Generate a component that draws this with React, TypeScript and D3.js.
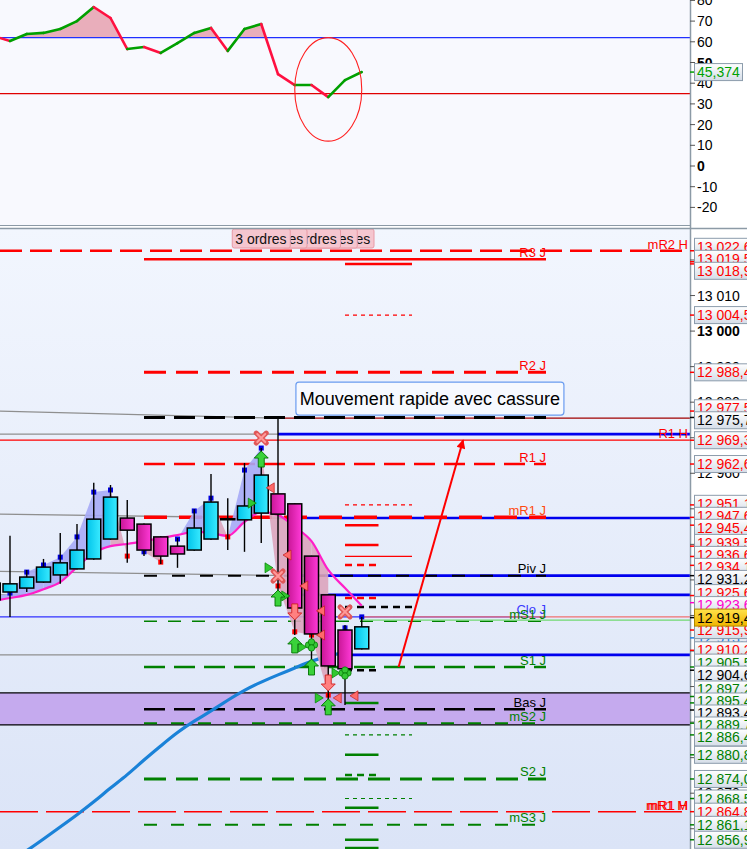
import React from "react";
import * as d3 from "d3";

// bars are indexed from -1 (partly off the left edge) to 21 (last bar)
const FIRST_BAR = -1;
const opens = [12924.4, 12926.6, 12927.7, 12929.4, 12931.4, 12933.1, 12935.9, 12941.5, 12947.4, 12945.7, 12942.1, 12939.5, 12938.4, 12941.5, 12947.2, 12946.9, 12948.8, 12954.2, 12951.4, 12936.7, 12925.8, 12915.9, 12910.6];
const highs = [12930.0, 12942.4, 12932.8, 12935.9, 12943.2, 12945.7, 12957.3, 12956.7, 12952.5, 12945.9, 12942.3, 12941.8, 12949.9, 12959.8, 12953.0, 12962.9, 12967.1, 12975.7, 12951.5, 12936.8, 12925.9, 12917.3, 12919.6];
const lows = [12922.0, 12919.6, 12926.6, 12929.2, 12928.9, 12932.9, 12935.7, 12941.3, 12934.8, 12936.7, 12934.5, 12933.4, 12938.2, 12941.3, 12938.4, 12937.9, 12940.4, 12922.9, 12914.5, 12907.5, 12896.2, 12894.8, 12910.4];
const closes = [12929.1, 12928.9, 12930.8, 12933.6, 12934.8, 12938.4, 12947.1, 12953.3, 12944.0, 12938.4, 12936.7, 12937.3, 12944.6, 12951.9, 12947.0, 12950.8, 12959.5, 12948.5, 12922.1, 12914.8, 12905.8, 12905.0, 12916.8];

const fastMa = [12924.1, 12924.9, 12925.8, 12927.4, 12929.4, 12933.6, 12937.6, 12939.5, 12940.1, 12940.9, 12941.8, 12942.6, 12943.5, 12943.2, 12942.4, 12946.3, 12949.1, 12948.3, 12944.9, 12940.9, 12932.8, 12927.7, 12922.7];
const slowMa = [12847.3, 12850.7, 12853.8, 12857.1, 12860.5, 12863.9, 12867.5, 12871.5, 12875.1, 12879.4, 12883.3, 12887.2, 12890.3, 12893.1, 12896.2, 12899.0, 12901.3, 12903.3, 12905.2, 12907.2, 12908.6, 12909.7, null];
const zigzag = [12925.0, 12926.3, 12932.2, 12934.2, 12936.4, 12942.1, 12954.7, 12955.3, 12936.7, 12937.9, 12935.0, 12941.5, 12949.4, 12953.0, 12942.1, 12960.9, 12967.1, 12928.3, 12915.4, 12914.5, 12897.6, 12916.5, 12919.6];

// oscillator (top panel)
const oscillator = [62.8, 60.4, 63.8, 64.3, 66.2, 70.0, 76.8, 71.5, 56.5, 57.5, 54.6, 59.4, 64.3, 66.7, 55.6, 66.2, 68.6, 44.4, 39.1, 39.1, 33.3, 41.5, 45.4];
const oscUpper = 62;
const oscLower = 35;
const oscLast = 45.374;
const oscTicks = [80, 70, 60, 50, 40, 30, 20, 10, 0, -10, -20];

// daily pivots
const pivotNames = ["R3 J", "R2 J", "Haut J", "R1 J", "mR1 J", "Piv J", "Clo J", "mS1 J", "S1 J", "Bas J", "mS2 J", "S2 J", "mS3 J"];
const pivotValues = [13020.2, 12988.4, 12975.7, 12962.6, 12947.6, 12931.2, 12919.6, 12918.4, 12905.5, 12893.6, 12889.7, 12874.0, 12861.1];
const pivotFromBar = 8;
const pivotToBar = 32;

// hourly / monthly levels across the whole chart
const hourlyNames = ["mR2 H", "R1 H", "mR1 M", "mR1 H"];
const hourlyValues = [13022.6, 12969.3, 12864.8, 12864.8];

// old swing levels: grey until broken, then blue
const swingStart = [12977.5, 12971.0, 12948.5, 12932.4, 12925.8, 12908.9];
const swingEnd = [12975.5, 12971.0, 12947.4, 12931.2, 12925.8, 12908.9];
const swingBreakBar = [16, 16, 16, 17, 17, 20];

// short order levels near the last bars
const shortFromBar = 20;
const redSolidShort = [12945.4, 12939.8];
const redSolidLong = [13018.9];
const redDashShort = [12934.2, 12924.9];
const redDashLong = [12977.5];
const redDotted = [13004.5, 12951.1];
const redThin = [12936.6];
const blackDashLong = [12922.4];
const blackDashShort = [12904.6];
const greenSolidShort = [12895.4, 12880.8, 12865.9, 12856.9, 12854.6];
const greenDashShort = [12875.1];
const greenDotted = [12886.4, 12868.5];

const zoneTop = 12898.2;
const zoneBottom = 12889.2;
const bidPrice = 12919.6;
const askPrice = 12918.7;
const lastPrice = 12919.4;

// price tags on the axis
const redTags = [13022.6, 13019.5, 13018.9, 13004.5, 12988.4, 12977.5, 12969.3, 12962.6, 12951.1, 12947.6, 12945.4, 12939.5, 12936.6, 12934.1, 12925.6, 12915.9, 12910.2, 12864.8];
const blackTags = [12975.7, 12931.2, 12904.6, 12893.4];
const greenTags = [12905.5, 12897.2, 12895.4, 12889.7, 12886.4, 12880.8, 12874.0, 12868.5, 12861.1, 12856.9];
const magentaTags = [12923.6];
const blueTags = [12913.7];

// signals
const upArrowBars = [15, 16, 17, 18, 19];
const upArrowValues = [12964.0, 12924.9, 12911.7, 12905.5, 12894.3];
const downArrowBars = [17, 19];
const downArrowValues = [12921.0, 12901.0];
const crossBars = [15, 16, 20];
const crossValues = [12969.9, 12931.1, 12921.0];
const cloverBars = [18, 20];
const cloverValues = [12911.7, 12903.8];
const buyTriBars = [15, 16, 17, 18, 19, 20];
const buyTriValues = [12951.6, 12933.4, 12925.5, 12911.1, 12896.8, 12903.8];
const sellTriBars = [15, 16, 17, 18, 18, 19, 20];
const sellTriValues = [12955.9, 12937.0, 12928.3, 12921.3, 12914.5, 12896.8, 12897.4];

const ordresBars = [15, 16, 18, 19, 20];
const ordresText = "3 ordres";
const noteText = "Mouvement rapide avec cassure";

const FONT = "'Liberation Sans', Arial, sans-serif";

function fmt(v: number, dec: number) {
  const [a, b] = v.toFixed(dec).split(".");
  const int = a.replace(/\B(?=(\d{3})+(?!\d))/g, " ");
  return b ? `${int},${b}` : int;
}

// spread the axis tags so that neighbours do not sit on top of each other
function spread(ys: number[], gap: number) {
  const out = ys.slice();
  for (let it = 0; it < 60; it++) {
    for (let k = 1; k < out.length; k++) {
      const d = out[k] - out[k - 1];
      if (d < gap) {
        const m = (gap - d) / 2;
        out[k - 1] -= m;
        out[k] += m;
      }
    }
  }
  return out;
}

const pivotStyle: Record<string, { c: string; w: number; d?: string; t: string }> = {
  "R3 J": { c: "#ff0000", w: 2.5, t: "#ff0000" },
  "R2 J": { c: "#ff0000", w: 3, d: "22,10", t: "#ff0000" },
  "Haut J": { c: "#000000", w: 3, d: "21,9", t: "#000000" },
  "R1 J": { c: "#ff0000", w: 2.5, d: "21,9", t: "#ff0000" },
  "mR1 J": { c: "#ff0000", w: 3.5, d: "23,12", t: "#ff4a10" },
  "Piv J": { c: "#000000", w: 2, d: "13,15", t: "#000000" },
  "Clo J": { c: "#3030ff", w: 1.2, t: "#3a3aff" },
  "mS1 J": { c: "#008000", w: 1.5, d: "13,11", t: "#008000" },
  "S1 J": { c: "#008000", w: 2.5, d: "21,9", t: "#008000" },
  "Bas J": { c: "#000000", w: 2.5, d: "21,9", t: "#000000" },
  "mS2 J": { c: "#008000", w: 2, d: "13,14", t: "#008000" },
  "S2 J": { c: "#008000", w: 3, d: "22,10", t: "#008000" },
  "mS3 J": { c: "#008000", w: 2, d: "13,14", t: "#008000" },
};

export default function App() {
  const x = d3.scaleLinear().domain([0, 40]).range([10, 680]);
  const y = d3.scaleLinear().domain([12854.3, 13029]).range([849, 228]);
  const yo = d3.scaleLinear().domain([-20, 80]).range([207.4, 0.4]);
  const barOf = (k: number) => k + FIRST_BAR;
  const PR = 690;

  const osc = oscillator.map((v, k) => ({ b: barOf(k), v }));
  const oscArea = d3.area<any>().x((d) => x(d.b)).y0(yo(oscUpper)).y1((d) => yo(d.v));

  const fastLine = d3.line<number>().x((_, k) => x(barOf(k))).y((d) => y(d)).curve(d3.curveMonotoneX);
  const aboveFast = d3
    .area<number>()
    .x((_, k) => x(barOf(k)))
    .y0(228)
    .y1((d) => y(d))
    .curve(d3.curveMonotoneX);
  const slowLine = d3
    .line<number | null>()
    .defined((d) => d != null)
    .x((_, k) => x(barOf(k)))
    .y((d) => y(d as number))
    .curve(d3.curveBasis);

  const shortGroups = [
    { vals: redSolidLong, to: 24, c: "#ff0000", w: 2.5 },
    { vals: redSolidShort, to: 22, c: "#ff0000", w: 2.5 },
    { vals: redDashShort, to: 22, c: "#ff0000", w: 2.5, d: "7,5" },
    { vals: redDashLong, to: 24, c: "#ff0000", w: 2.5, d: "7,5" },
    { vals: redDotted, to: 24, c: "#ff0000", w: 1.2, d: "4,4" },
    { vals: redThin, to: 24, c: "#ff0000", w: 1.2 },
    { vals: blackDashLong, to: 24, c: "#000000", w: 2.5, d: "7,5" },
    { vals: blackDashShort, to: 22, c: "#000000", w: 2.5, d: "7,5" },
    { vals: greenSolidShort, to: 22, c: "#008000", w: 2.5 },
    { vals: greenDashShort, to: 22, c: "#008000", w: 2.5, d: "7,5" },
    { vals: greenDotted, to: 24, c: "#008000", w: 1.2, d: "4,4" },
  ];

  const tags = [
    ...redTags.map((v) => ({ v, c: "#ff0000", last: false })),
    ...blackTags.map((v) => ({ v, c: "#000000", last: false })),
    ...greenTags.map((v) => ({ v, c: "#008000", last: false })),
    ...magentaTags.map((v) => ({ v, c: "#ff00cc", last: false })),
    { v: lastPrice, c: "#000000", last: true },
  ].sort((a, b) => b.v - a.v);
  const tagY = spread(
    tags.map((t) => y(t.v)),
    12
  );
  const placed = tags.map((t, k) => ({ ...t, ty: tagY[k] }));
  const lastTag = placed.find((t) => t.last)!;

  const upPath = "M0,-8 L7,-1 L3,-1 L3,8 L-3,8 L-3,-1 L-7,-1 Z";
  const downPath = "M0,8 L7,1 L3,1 L3,-8 L-3,-8 L-3,1 L-7,1 Z";

  const noteCx = x(25.07);
  const noteCy = y(12981.0);

  const tagBox = (ty: number, fill: string, stroke: string) => (
    <rect x={694.5} y={ty - 8.5} width={62} height={17} fill={fill} stroke={stroke} />
  );

  return (
    <svg width={747} height={849} style={{ position: "absolute", left: 0, top: 0, fontFamily: FONT }}>
      <defs>
        <linearGradient id="bgMain" x1="0" y1="0" x2="0" y2="1">
          <stop offset="0" stopColor="#f2f6fe" />
          <stop offset="1" stopColor="#dbe4f7" />
        </linearGradient>
        <linearGradient id="tagGrad" x1="0" y1="0" x2="0" y2="1">
          <stop offset="0" stopColor="#ffffff" />
          <stop offset="1" stopColor="#d5dde8" />
        </linearGradient>
        <linearGradient id="tagYellow" x1="0" y1="0" x2="0" y2="1">
          <stop offset="0" stopColor="#ffe24a" />
          <stop offset="1" stopColor="#f0b400" />
        </linearGradient>
        <linearGradient id="upGrad" x1="0" y1="0" x2="1" y2="0">
          <stop offset="0" stopColor="#00c4ea" />
          <stop offset="1" stopColor="#3aeaff" />
        </linearGradient>
        <linearGradient id="downGrad" x1="0" y1="0" x2="1" y2="0">
          <stop offset="0" stopColor="#c81696" />
          <stop offset="1" stopColor="#ff3ad8" />
        </linearGradient>
        <clipPath id="clipTop">
          <rect x={0} y={0} width={PR} height={225} />
        </clipPath>
        <clipPath id="clipOscFill">
          <rect x={0} y={0} width={PR} height={yo(oscUpper)} />
        </clipPath>
        <clipPath id="clipMain">
          <rect x={0} y={228} width={PR} height={621} />
        </clipPath>
        <clipPath id="clipAboveMa">
          <path d={aboveFast(fastMa) || ""} />
        </clipPath>
        <marker id="arrowHead" viewBox="0 0 10 10" refX="9" refY="5" markerWidth="6" markerHeight="4.5" orient="auto">
          <path d="M0,0 L10,5 L0,10 Z" fill="#ff0000" />
        </marker>
      </defs>

      <rect x={0} y={0} width={747} height={849} fill="#ffffff" />
      <rect x={0} y={0} width={PR} height={225} fill="#f8f9fe" />
      <rect x={0} y={228} width={PR} height={621} fill="url(#bgMain)" />

      {/* oscillator panel */}
      <g clipPath="url(#clipTop)">
        <g clipPath="url(#clipOscFill)">
          <path d={oscArea(osc) || ""} fill="#e9aebb" />
        </g>
        <line x1={0} x2={PR} y1={yo(oscUpper)} y2={yo(oscUpper)} stroke="#2030ff" strokeWidth={1.2} />
        <line x1={0} x2={PR} y1={yo(oscLower)} y2={yo(oscLower)} stroke="#e00000" strokeWidth={1.2} />
        {osc.slice(1).map((d, k) => {
          const p = osc[k];
          return (
            <line
              key={k}
              x1={x(p.b)}
              y1={yo(p.v)}
              x2={x(d.b)}
              y2={yo(d.v)}
              stroke={d.v >= p.v ? "#00a000" : "#ff1040"}
              strokeWidth={2.6}
              strokeLinecap="round"
            />
          );
        })}
        <ellipse cx={x(19)} cy={yo(37)} rx={x(21) - x(19)} ry={yo(12) - yo(37)} fill="none" stroke="#ff2020" strokeWidth={1.1} />
      </g>

      {/* main price panel */}
      <g clipPath="url(#clipMain)">
        <rect x={0} y={y(zoneTop)} width={PR} height={y(zoneBottom) - y(zoneTop)} fill="#c5aaee" />
        <line x1={0} x2={PR} y1={y(zoneTop)} y2={y(zoneTop)} stroke="#000" strokeWidth={1.2} />
        <line x1={0} x2={PR} y1={y(zoneBottom)} y2={y(zoneBottom)} stroke="#000" strokeWidth={1.2} />

        {swingStart.map((v, k) => {
          const bx = x(swingBreakBar[k]);
          return (
            <g key={"sw" + k}>
              <line x1={0} x2={bx} y1={y(v)} y2={y(swingEnd[k])} stroke="#8f8f8f" strokeWidth={1.3} />
              <line
                x1={bx}
                x2={PR}
                y1={y(swingEnd[k])}
                y2={y(swingEnd[k])}
                stroke={k === 0 ? "#a00000" : "#0000ee"}
                strokeWidth={k === 0 ? 1.2 : 2.6}
              />
            </g>
          );
        })}

        {hourlyNames.slice(0, 3).map((n, k) => {
          const v = hourlyValues[k];
          const st = n === "mR2 H" ? { w: 2.5, d: "22,8" } : n === "R1 H" ? { w: 1.2, d: undefined } : { w: 1.5, d: "38,8" };
          return <line key={"h" + k} x1={0} x2={PR} y1={y(v)} y2={y(v)} stroke="#ff0000" strokeWidth={st.w} strokeDasharray={st.d} />;
        })}

        {pivotNames.map((n, k) => {
          const st = pivotStyle[n];
          const v = pivotValues[k];
          const x0 = n === "Clo J" ? 0 : x(pivotFromBar);
          return <line key={"p" + k} x1={x0} x2={x(pivotToBar)} y1={y(v)} y2={y(v)} stroke={st.c} strokeWidth={st.w} strokeDasharray={st.d} />;
        })}

        {shortGroups.map((g, gi) =>
          g.vals.map((v, k) => (
            <line
              key={"s" + gi + "_" + k}
              x1={x(shortFromBar)}
              x2={x(g.to)}
              y1={y(v)}
              y2={y(v)}
              stroke={g.c}
              strokeWidth={g.w}
              strokeDasharray={g.d}
            />
          ))
        )}

        <line x1={x(21)} x2={PR} y1={y(bidPrice)} y2={y(bidPrice)} stroke="#f07070" strokeWidth={1.2} />
        <line x1={x(21)} x2={PR} y1={y(askPrice)} y2={y(askPrice)} stroke="#70d870" strokeWidth={1.2} />

        <path d={slowLine(slowMa) || ""} fill="none" stroke="#1a82d8" strokeWidth={3.2} />

        {zigzag.slice(0, -1).map((z, k) => {
          const z2 = zigzag[k + 1];
          const x1 = x(barOf(k));
          const x2 = x(barOf(k + 1));
          const pts = [
            [x1, y(z)],
            [x2, y(z2)],
            [x2, y(fastMa[k + 1])],
            [x1, y(fastMa[k])],
          ];
          const rising = z2 >= z;
          return (
            <polygon
              key={"z" + k}
              points={pts.map((p) => p.join(",")).join(" ")}
              fill={rising ? "#a6aaf6" : "#dca4bc"}
              opacity={0.9}
              clipPath={rising ? "url(#clipAboveMa)" : undefined}
            />
          );
        })}

        <path d={fastLine(fastMa) || ""} fill="none" stroke="#ff1fc8" strokeWidth={2.2} />

        {zigzag.map((z, k) => {
          if (k === 0) return null;
          const up = z >= zigzag[k - 1];
          return <rect key={"m" + k} x={x(barOf(k)) - 2.5} y={y(z) - 2.5} width={5} height={5} fill={up ? "#0000e0" : "#ff0000"} />;
        })}

        {opens.map((o, k) => {
          const cx = x(barOf(k));
          const c = closes[k];
          const top = y(Math.max(o, c));
          const bot = y(Math.min(o, c));
          return (
            <g key={"c" + k}>
              <line x1={cx} x2={cx} y1={y(highs[k])} y2={y(lows[k])} stroke="#000" strokeWidth={1.4} />
              <rect
                x={cx - 7}
                y={top}
                width={14}
                height={Math.max(1, bot - top)}
                fill={c >= o ? "url(#upGrad)" : "url(#downGrad)"}
                stroke="#000"
                strokeWidth={1.5}
              />
            </g>
          );
        })}

        {buyTriBars.map((b, k) => (
          <path key={"bt" + k} d="M-4,-5 L4,0 L-4,5 Z" transform={`translate(${x(b) - 9},${y(buyTriValues[k])})`} fill="#30c830" stroke="#008000" strokeWidth={0.7} />
        ))}
        {sellTriBars.map((b, k) => (
          <path key={"st" + k} d="M4,-5 L-4,0 L4,5 Z" transform={`translate(${x(b) + 9},${y(sellTriValues[k])})`} fill="#ff6a6a" stroke="#c02020" strokeWidth={0.7} />
        ))}
        {upArrowBars.map((b, k) => (
          <path key={"ua" + k} d={upPath} transform={`translate(${x(b)},${y(upArrowValues[k])})`} fill="#3ad23a" stroke="#007000" strokeWidth={0.9} />
        ))}
        {downArrowBars.map((b, k) => (
          <path key={"da" + k} d={downPath} transform={`translate(${x(b)},${y(downArrowValues[k])})`} fill="#ff8080" stroke="#d02020" strokeWidth={0.9} />
        ))}
        {crossBars.map((b, k) => (
          <g key={"cr" + k} transform={`translate(${x(b)},${y(crossValues[k])})`}>
            <path d="M-5,-5 L5,5 M5,-5 L-5,5" stroke="#e05858" strokeWidth={5} strokeLinecap="round" />
            <path d="M-4,-4 L4,4 M4,-4 L-4,4" stroke="#ff9a9a" strokeWidth={2} strokeLinecap="round" />
          </g>
        ))}
        {cloverBars.map((b, k) => (
          <g key={"cl" + k} transform={`translate(${x(b)},${y(cloverValues[k])})`}>
            {[[-3, 0], [3, 0], [0, -3], [0, 3]].map((p, j) => (
              <circle key={j} cx={p[0]} cy={p[1]} r={3.2} fill="#36c836" stroke="#007000" strokeWidth={0.7} />
            ))}
          </g>
        ))}

        {/* arrow annotation */}
        <line
          x1={x(23.2)}
          y1={y(12905.5)}
          x2={x(27.05)}
          y2={y(12969.3)}
          stroke="#ff0000"
          strokeWidth={2}
          markerEnd="url(#arrowHead)"
        />

        {/* level labels */}
        {pivotNames.map((n, k) => (
          <text key={"pl" + k} x={x(pivotToBar)} y={y(pivotValues[k]) - 2.5} fontSize={13} textAnchor="end" fill={pivotStyle[n].t}>
            {n}
          </text>
        ))}
        {hourlyNames.map((n, k) => (
          <text key={"hl" + k} x={688} y={y(hourlyValues[k]) - 2} fontSize={13} textAnchor="end" fill="#ff0000">
            {n}
          </text>
        ))}

        {/* order tags */}
        {ordresBars
          .slice()
          .reverse()
          .map((b, k) => (
            <g key={"o" + k}>
              <rect x={x(b) - 29} y={229} width={58} height={19} rx={2} fill="#f5c6cf" stroke="#e89aa6" strokeWidth={1} />
              <text x={x(b) - 26} y={243.5} fontSize={14} fill="#111">
                {ordresText}
              </text>
            </g>
          ))}

        <rect x={noteCx - 134} y={noteCy - 16.5} width={268} height={33} rx={3} fill="#f6f9ff" stroke="#6a9cf0" strokeWidth={1.2} />
        <text x={noteCx} y={noteCy + 6.5} fontSize={18} textAnchor="middle" fill="#000">
          {noteText}
        </text>
      </g>

      {/* panel borders */}
      <line x1={0} x2={PR} y1={225.5} y2={225.5} stroke="#8c9aa6" strokeWidth={1.2} />
      <line x1={0} x2={747} y1={228.5} y2={228.5} stroke="#8c9aa6" strokeWidth={1.5} />
      <line x1={PR + 0.5} x2={PR + 0.5} y1={0} y2={849} stroke="#8c9aa6" strokeWidth={1.5} />

      {/* oscillator axis */}
      {oscTicks.map((t) => (
        <g key={"ot" + t}>
          <line x1={PR} x2={PR + 5} y1={yo(t)} y2={yo(t)} stroke="#555" />
          <text x={697} y={yo(t) + 5} fontSize={14} fontWeight={t === 0 || t === 50 ? "bold" : "normal"} fill="#000">
            {t}
          </text>
        </g>
      ))}
      <line x1={PR} x2={PR + 5} y1={yo(oscLast)} y2={yo(oscLast)} stroke="#00a000" strokeWidth={1.5} />
      <rect x={694.5} y={yo(oscLast) - 8.5} width={48} height={17} fill="url(#tagGrad)" stroke="#8c9cac" />
      <text x={697} y={yo(oscLast) + 5} fontSize={14} fill="#00a000">
        {fmt(oscLast, 3)}
      </text>

      {/* price axis */}
      {d3.range(12860, 13030, 10).map((t) => (
        <g key={"mt" + t}>
          <line x1={PR} x2={PR + 5} y1={y(t)} y2={y(t)} stroke="#555" />
          <text x={697} y={y(t) + 5} fontSize={14} fontWeight={t === 13000 ? "bold" : "normal"} fill="#000">
            {fmt(t, 0)}
          </text>
        </g>
      ))}
      {blueTags.map((v, k) => (
        <g key={"bl" + k}>
          {tagBox(y(v), "url(#tagGrad)", "#8c9cac")}
          <text x={697} y={y(v) + 5} fontSize={14} fill="#1e7fe0">
            {fmt(v, 1)}
          </text>
          <line x1={PR} x2={PR + 5} y1={y(v)} y2={y(v)} stroke="#1e7fe0" strokeWidth={1.5} />
        </g>
      ))}
      {placed
        .filter((t) => !t.last)
        .map((t, k) => (
          <g key={"tg" + k}>
            {tagBox(t.ty, "url(#tagGrad)", "#8c9cac")}
            <text x={697} y={t.ty + 5} fontSize={14} fill={t.c}>
              {fmt(t.v, 1)}
            </text>
          </g>
        ))}
      {tagBox(lastTag.ty, "url(#tagYellow)", "#b08a00")}
      <text x={697} y={lastTag.ty + 5} fontSize={14} fill="#000">
        {fmt(lastPrice, 1)}
      </text>
      {placed.map((t, k) => (
        <line key={"tt" + k} x1={PR} x2={PR + 4} y1={y(t.v)} y2={y(t.v)} stroke={t.c} strokeWidth={1.5} />
      ))}
    </svg>
  );
}
